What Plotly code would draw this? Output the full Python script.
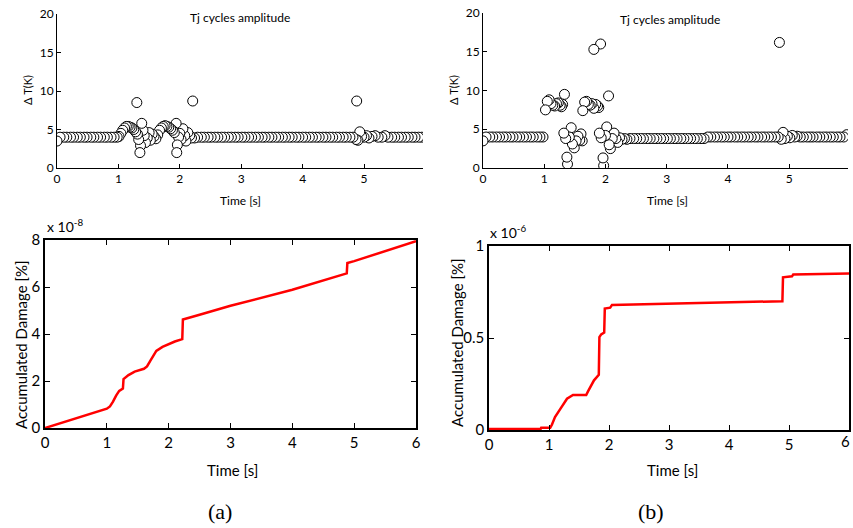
import plotly.graph_objects as go

W, H = 853, 528
FONT = "Lato"

# ---------------- Top-left (a): Tj cycles amplitude ----------------
ta = [0.00, 0.05, 0.11, 0.16, 0.22, 0.27, 0.33, 0.38, 0.44, 0.49, 0.55, 0.60, 0.66, 0.71, 0.77, 0.82, 0.88, 0.93, 0.98,
      1.01, 1.04, 1.07, 1.10, 1.13, 1.16, 1.19, 1.22, 1.25, 1.28, 1.30,
      1.31, 1.33, 1.35, 1.36, 1.38, 1.40, 1.42, 1.44, 1.47, 1.50, 1.52, 1.55, 1.58, 1.61,
      1.64, 1.67, 1.70, 1.73, 1.76, 1.79, 1.82, 1.85, 1.88, 1.91,
      1.94, 1.95, 1.96, 1.98, 2.00, 2.02, 2.05, 2.08, 2.10, 2.13, 2.16, 2.19, 2.21,
      2.24, 2.29, 2.35, 2.40, 2.46, 2.51, 2.57, 2.62, 2.68, 2.73, 2.79, 2.84, 2.90, 2.95, 3.01, 3.06,
      3.12, 3.17, 3.23, 3.28, 3.34, 3.39, 3.45, 3.50, 3.56, 3.61, 3.67, 3.72, 3.78, 3.83, 3.89, 3.94,
      4.00, 4.05, 4.11, 4.16, 4.22, 4.27, 4.33, 4.38, 4.44, 4.49, 4.55, 4.60, 4.66, 4.71, 4.77, 4.82,
      4.87, 4.88, 4.90, 4.93, 4.96, 5.00, 5.04, 5.08, 5.13, 5.18, 5.23, 5.29, 5.34, 5.39, 5.45, 5.50,
      5.56, 5.61, 5.67, 5.72, 5.78, 5.83, 5.89, 5.94]
dTa = [3.5, 4.0, 4.0, 4.0, 4.0, 4.0, 4.0, 4.0, 4.0, 4.0, 4.0, 4.0, 4.0, 4.0, 4.0, 4.0, 4.0, 4.0, 4.0,
       4.1, 4.5, 4.9, 5.2, 5.4, 5.4, 5.3, 5.2, 5.0, 4.7, 8.5,
       4.4, 3.7, 2.0, 2.9, 5.8, 4.9, 4.2, 3.3, 3.9, 4.6, 3.6, 4.4, 4.1, 3.8,
       4.3, 4.9, 5.2, 5.4, 5.5, 5.4, 5.3, 5.1, 4.9, 4.6,
       5.8, 2.0, 3.0, 4.0, 4.5, 3.7, 5.1, 4.2, 3.5, 4.6, 4.2, 3.9, 8.7,
       3.9, 4.0, 4.0, 4.0, 4.0, 4.0, 4.0, 4.0, 4.0, 4.0, 4.0, 4.0, 4.0, 4.0, 4.0, 4.0,
       4.0, 4.0, 4.0, 4.0, 4.0, 4.0, 4.0, 4.0, 4.0, 4.0, 4.0, 4.0, 4.0, 4.0, 4.0, 4.0,
       4.0, 4.0, 4.0, 4.0, 4.0, 4.0, 4.0, 4.0, 4.0, 4.0, 4.0, 4.0, 4.0, 4.0, 4.0, 4.0,
       3.7, 8.7, 3.6, 4.7, 4.1, 4.0, 4.2, 3.9, 4.1, 4.2, 4.0, 4.0, 4.2, 4.0, 4.0, 4.0,
       4.0, 4.0, 4.0, 4.0, 4.0, 4.0, 4.0, 4.0]

# ---------------- Top-right (b): Tj cycles amplitude ----------------
tb = [0.00, 0.05, 0.11, 0.16, 0.22, 0.27, 0.33, 0.38, 0.44, 0.49, 0.55, 0.60, 0.66, 0.71, 0.77, 0.82, 0.88, 0.93, 0.98,
      1.02, 1.05, 1.08, 1.11, 1.14, 1.17, 1.20, 1.23, 1.26, 1.28, 1.30, 1.33,
      1.32, 1.35, 1.37, 1.38, 1.41, 1.44, 1.46, 1.49, 1.52, 1.55, 1.58, 1.60, 1.62,
      1.63, 1.66, 1.69, 1.72, 1.75, 1.78, 1.81, 1.84, 1.87, 1.89,
      1.81, 1.92,
      1.90, 1.93, 1.96, 1.97, 2.00, 2.02, 2.05, 2.06, 2.08, 2.11, 2.14, 2.17, 2.20, 2.23, 2.27, 2.31, 2.35,
      2.40, 2.46, 2.51, 2.57, 2.62, 2.68, 2.73, 2.79, 2.84, 2.90, 2.95, 3.01, 3.06,
      3.12, 3.17, 3.23, 3.28, 3.34, 3.39, 3.45, 3.50, 3.56, 3.61, 3.67, 3.72, 3.78, 3.83, 3.89, 3.94,
      4.00, 4.05, 4.11, 4.16, 4.22, 4.27, 4.33, 4.38, 4.44, 4.49, 4.55, 4.60, 4.66, 4.71, 4.77, 4.82,
      4.84, 4.87, 4.90, 4.93, 4.97, 5.01, 5.05, 5.09, 5.13, 5.18, 5.23, 5.29, 5.34, 5.39, 5.45, 5.50,
      5.56, 5.61, 5.67, 5.72, 5.78, 5.83, 5.89, 5.94]
dTb = [3.5, 4.0, 4.0, 4.0, 4.0, 4.0, 4.0, 4.0, 4.0, 4.0, 4.0, 4.0, 4.0, 4.0, 4.0, 4.0, 4.0, 4.0, 4.0,
       7.5, 8.6, 8.8, 8.3, 8.1, 8.0, 8.3, 8.4, 8.1, 7.9, 8.2, 9.5,
       4.5, 3.8, 1.4, 0.5, 4.0, 5.2, 3.1, 2.6, 3.5, 4.1, 3.6, 4.4, 3.5,
       7.4, 8.5, 8.6, 8.2, 8.1, 8.3, 7.7, 8.2, 8.0, 7.8,
       15.3, 16.0,
       4.5, 3.9, 1.3, 0.3, 4.2, 5.3, 9.3, 3.0, 2.5, 3.8, 4.5, 3.8, 3.3, 3.9, 3.7, 3.8, 3.7,
       3.8, 3.8, 3.8, 3.8, 3.8, 3.8, 3.8, 3.8, 3.8, 3.8, 3.8, 3.8, 3.8,
       3.8, 3.8, 3.8, 3.8, 3.8, 3.8, 3.8, 3.8, 3.8, 3.8, 4.0, 4.0, 4.0, 4.0, 4.0, 4.0,
       4.0, 4.0, 4.0, 4.0, 4.0, 4.0, 4.0, 4.0, 4.0, 4.0, 4.0, 4.0, 4.0, 4.0, 4.0, 4.0,
       16.2, 3.7, 4.6, 3.8, 4.1, 3.9, 4.2, 4.0, 4.1, 4.0, 4.0, 4.0, 4.0, 4.0, 4.0, 4.0,
       4.0, 4.0, 4.0, 4.0, 4.0, 4.0, 4.0, 4.3]

# ---------------- Bottom-left (a): accumulated damage (x 1e-8) ----------------
xa_d = [0, 0.5, 1.0, 1.05, 1.10, 1.15, 1.20, 1.26, 1.27, 1.35, 1.45, 1.60, 1.65, 1.70, 1.75, 1.80,
        1.90, 2.00, 2.10, 2.22, 2.23, 2.50, 3.00, 4.00, 4.88, 4.89, 5.00, 6.00]
ya_d = [0, 0.42, 0.82, 0.92, 1.12, 1.38, 1.58, 1.68, 2.08, 2.25, 2.40, 2.52, 2.62, 2.85, 3.05, 3.28,
        3.45, 3.58, 3.68, 3.78, 4.62, 4.82, 5.20, 5.88, 6.58, 7.02, 7.10, 7.95]

# ---------------- Bottom-right (b): accumulated damage (x 1e-6) ----------------
xb_d = [0, 0.86, 0.87, 1.02, 1.05, 1.10, 1.20, 1.30, 1.40, 1.62, 1.65, 1.70, 1.75, 1.83, 1.84, 1.87,
        1.92, 1.93, 2.02, 2.05, 2.80, 3.90, 4.89, 4.90, 5.05, 5.07, 6.00]
yb_d = [0.005, 0.005, 0.012, 0.012, 0.03, 0.07, 0.12, 0.17, 0.19, 0.19, 0.21, 0.24, 0.27, 0.30, 0.505, 0.52,
        0.53, 0.66, 0.665, 0.68, 0.685, 0.695, 0.70, 0.83, 0.835, 0.845, 0.85]

top_xticks = [0, 1, 2, 3, 4, 5]
top_yticks = [0, 5, 10, 15, 20]
bot_xticks = [0, 1, 2, 3, 4, 5, 6]
bl_yticks = [0, 2, 4, 6, 8]
br_yticks = [0, 0.5, 1]
br_yticklabels = ["0", "0.5", "1"]


def px(x):
    return x / W


def py(y):
    return 1 - y / H


fig = go.Figure()

# markers drawn last-to-first so earlier cycles lie on top (as in the original)
marker = dict(symbol="circle", size=10, color="white", line=dict(color="black", width=1))
fig.add_trace(go.Scatter(x=ta[::-1], y=dTa[::-1], mode="markers", marker=marker, xaxis="x", yaxis="y"))
fig.add_trace(go.Scatter(x=tb[::-1], y=dTb[::-1], mode="markers", marker=marker, xaxis="x2", yaxis="y2"))
fig.add_trace(go.Scatter(x=xa_d, y=ya_d, mode="lines", line=dict(color="#ff0000", width=2.5),
                         xaxis="x3", yaxis="y3"))
fig.add_trace(go.Scatter(x=xb_d, y=yb_d, mode="lines", line=dict(color="#ff0000", width=2.5),
                         xaxis="x4", yaxis="y4"))

top_common = dict(showgrid=False, zeroline=False, showline=True, linecolor="black", linewidth=1,
                  automargin=False,
                  ticks="inside", ticklen=4, tickcolor="black", tickfont=dict(family=FONT, size=12, color="black"))
bot_common = dict(showgrid=False, zeroline=False, showline=True, linecolor="black", linewidth=1.6,
                  automargin=False,
                  mirror="ticks", ticks="inside", ticklen=5, tickcolor="black",
                  tickfont=dict(family=FONT, size=15, color="black"))

fig.update_layout(
    width=W, height=H, margin=dict(l=0, r=0, t=0, b=0),
    paper_bgcolor="white", plot_bgcolor="white", showlegend=False,
    xaxis=dict(domain=[px(57), px(423)], range=[0, 5.96], tickvals=top_xticks, anchor="y", **top_common),
    yaxis=dict(domain=[py(168), py(14)], range=[0, 20], tickvals=top_yticks, anchor="x", **top_common),
    xaxis2=dict(domain=[px(483), px(848)], range=[0, 5.96], tickvals=top_xticks, anchor="y2", **top_common),
    yaxis2=dict(domain=[py(168), py(13)], range=[0, 20], tickvals=top_yticks, anchor="x2", **top_common),
    xaxis3=dict(domain=[px(45), px(416)], range=[0, 6], tickvals=bot_xticks, anchor="y3", **bot_common),
    yaxis3=dict(domain=[py(428), py(240)], range=[0, 8], tickvals=bl_yticks, anchor="x3", **bot_common),
    xaxis4=dict(domain=[px(489), px(849)], range=[0, 6], tickvals=bot_xticks, anchor="y4", **bot_common),
    yaxis4=dict(domain=[py(430), py(246)], range=[0, 1], tickvals=br_yticks, ticktext=br_yticklabels,
                anchor="x4", **bot_common),
)

def ann(text, x, y, size, rot=0, family=FONT, xanchor="center", yanchor="middle"):
    fig.add_annotation(text=text, x=px(x), y=py(y), xref="paper", yref="paper", showarrow=False,
                       textangle=rot, xanchor=xanchor, yanchor=yanchor,
                       font=dict(family=family, size=size, color="black"))

# top titles and axis labels
ann("Tj cycles amplitude", 240, 18, 12)
ann("Tj cycles amplitude", 670, 19, 12)
ann("Time [s]", 240, 200, 12)
ann("Time [s]", 667, 200, 12)
ann("\u0394 T(K)", 28, 90, 11, rot=-90)
ann("\u0394 T(K)", 454, 90, 11, rot=-90)

# bottom axis labels
ann("Time [s]", 232, 470, 15)
ann("Time [s]", 672, 470, 15)
ann("Accumulated Damage [%]", 21, 345, 15, rot=-90)
ann("Accumulated Damage [%]", 457, 343, 15, rot=-90)
ann("x 10<sup>-8</sup>", 45, 226, 14, xanchor="left")
ann("x 10<sup>-6</sup>", 488, 231, 14, xanchor="left")
# last tick label of (b), kept inside the page edge
ann("6", 852, 441, 15, xanchor="right")

# panel labels
ann("(a)", 220, 511, 22, family="Liberation Serif")
ann("(b)", 651, 511, 22, family="Liberation Serif")

fig.write_html("out.html", config={"displayModeBar": False},
               post_script="document.body.style.margin='0';document.body.style.overflow='hidden';")
